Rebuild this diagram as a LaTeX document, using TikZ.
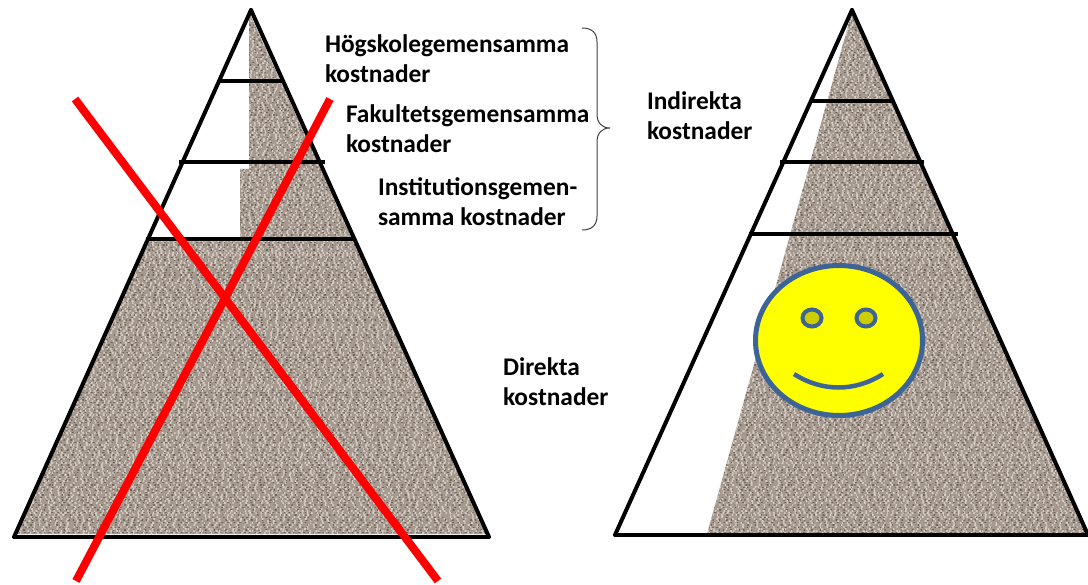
\documentclass[tikz,border=0pt]{standalone}
\usepackage{fontspec}
\setmainfont{Carlito}
\definecolor{stonebase}{HTML}{A69A90}
\definecolor{stonedark}{HTML}{6E6259}
\definecolor{stonelight}{HTML}{D6CDC4}
\definecolor{smileblue}{HTML}{3C6496}
\definecolor{eyeyellow}{HTML}{CDCD00}
\definecolor{smileyellow}{HTML}{FFFF00}
\definecolor{crossred}{HTML}{FF0000}
% one row of specks per step, with gaps and phase drawn at random
\newcommand{\stonerows}[3]{%
\foreach \row in {#2,#3,...,540}{%
\pgfmathsetmacro{\gapa}{3+rnd*6}\pgfmathsetmacro{\gapb}{2+rnd*8}\pgfmathsetmacro{\gapc}{3+rnd*9}\pgfmathsetmacro{\phasepos}{rnd*25}
\draw[#1,line cap=round,dash pattern=on 0.5pt off \gapa pt on 1pt off \gapb pt on 0.2pt off \gapc pt,dash phase=\phasepos pt] (0,\row) -- (1088,\row);}}
\begin{document}
\begin{tikzpicture}[x=1pt,y=-1pt,inner sep=0pt,outer sep=0pt,
edgeline/.style={draw=black,line width=4pt,line cap=round},
levelline/.style={draw=black,line width=3.5pt},
crossline/.style={draw=crossred,line width=8pt},
costlabel/.style={align=left,anchor=west,font=\fontsize{25.4}{30}\selectfont\bfseries},
smileline/.style={draw=smileblue,line width=5pt}]
\useasboundingbox (0,0) rectangle (1088,585);
\pgfmathsetseed{4711}
% stone fill
\begin{scope}
\clip (249,12) -- (487,534) -- (16,534) -- (147,240) -- (240,240) -- (240,169) -- (249,169) -- cycle
(852,12) -- (1088,534) -- (707,534) -- cycle;
\fill[stonebase] (0,0) rectangle (1088,585);
\stonerows{stonedark,line width=1.5pt}{10}{12.5}
\stonerows{stonelight,line width=1.6pt}{11}{13}
\end{scope}
% left pyramid
\coordinate (topL) at (251,10);
\coordinate (baseLa) at (14,537);
\coordinate (baseLb) at (489,537);
\coordinate (lev1a) at (219,81);
\coordinate (lev1b) at (284,81);
\coordinate (lev2a) at (179,162);
\coordinate (lev2b) at (325,162);
\coordinate (lev3a) at (146,239);
\coordinate (lev3b) at (356,239);
\draw[edgeline] (baseLa) -- (topL);
\draw[edgeline] (topL) -- (baseLb);
\draw[levelline] (baseLa) -- (baseLb);
\draw[levelline] (lev1a) -- (lev1b);
\draw[levelline,line width=4.5pt] (lev2a) -- (lev2b);
\draw[levelline] (lev3a) -- (lev3b);
% red cross
\coordinate (crossa) at (75,99);
\coordinate (crossb) at (438,581);
\coordinate (crossc) at (330,99);
\coordinate (crossd) at (76,581);
\draw[crossline] (crossa) -- (crossb);
\draw[crossline] (crossc) -- (crossd);
% right pyramid
\coordinate (topR) at (852,10);
\coordinate (baseRa) at (615,535);
\coordinate (baseRb) at (1088,535);
\coordinate (lev4a) at (811,101);
\coordinate (lev4b) at (894,101);
\coordinate (lev5a) at (780,162);
\coordinate (lev5b) at (924,162);
\coordinate (lev6a) at (749,234);
\coordinate (lev6b) at (958,234);
\draw[edgeline] (baseRa) -- (topR);
\draw[edgeline] (topR) -- (baseRb);
\draw[levelline] (baseRa) -- (baseRb);
\draw[levelline] (lev4a) -- (lev4b);
\draw[levelline] (lev5a) -- (lev5b);
\draw[levelline] (lev6a) -- (lev6b);
% smiley
\draw[smileline,fill=smileyellow] (839,340.5) ellipse (83.5 and 75);
\draw[smileline,line width=4pt,fill=eyeyellow] (812,318) ellipse (9.5 and 8.5);
\draw[smileline,line width=4pt,fill=eyeyellow] (866,318) ellipse (9.5 and 8.5);
\coordinate (smilea) at (794,374);
\coordinate (smileb) at (883,374);
\draw[smileline,line width=4.5pt] (smilea) .. controls (822,392) and (855,392) .. (smileb);
% brace
\coordinate (bracetop) at (582,28);
\coordinate (bracetip) at (610,128);
\coordinate (bracebot) at (582,230);
\draw[black!75,line width=1pt] (bracetop) .. controls (592,28) and (597,33) .. (597,42) -- (597,114)
.. controls (597,123) and (602,128) .. (bracetip) .. controls (602,128) and (597,133) .. (597,142) -- (597,216)
.. controls (597,225) and (592,230) .. (bracebot);
% labels
\node[costlabel] (hogskola) at (325,59) {Högskolegemensamma\\kostnader};
\node[costlabel] (fakultet) at (346,129) {Fakultetsgemensamma\\kostnader};
\node[costlabel] (institution) at (378,202) {Institutionsgemen-\\samma kostnader};
\node[costlabel] (indirekta) at (647,116) {Indirekta\\kostnader};
\node[costlabel] (direkta) at (503,382) {Direkta\\kostnader};
\end{tikzpicture}
\end{document}
